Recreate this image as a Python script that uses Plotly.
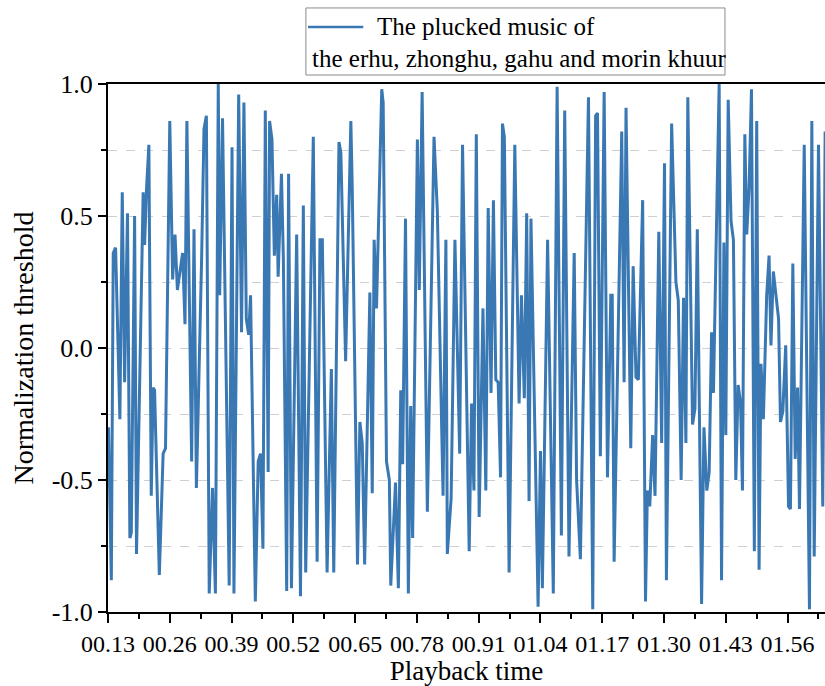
import plotly.graph_objects as go

# Playback time (x) and normalized amplitude (y)
time = [
    0.131, 0.137, 0.141, 0.146, 0.155, 0.160, 0.165, 0.171, 0.176, 0.179,
    0.186, 0.190, 0.204, 0.207, 0.211, 0.216, 0.221, 0.225, 0.228, 0.238,
    0.246, 0.251, 0.260, 0.266, 0.271, 0.276, 0.287, 0.292, 0.296, 0.306,
    0.311, 0.316, 0.327, 0.332, 0.337, 0.343, 0.350, 0.356, 0.362, 0.365,
    0.371, 0.385, 0.391, 0.395, 0.405, 0.411, 0.416, 0.421, 0.426, 0.430,
    0.440, 0.446, 0.451, 0.456, 0.461, 0.467, 0.470, 0.475, 0.480, 0.485,
    0.488, 0.495, 0.499, 0.506, 0.510, 0.516, 0.527, 0.535, 0.541, 0.546,
    0.562, 0.570, 0.576, 0.581, 0.591, 0.600, 0.605, 0.616, 0.620, 0.630,
    0.641, 0.644, 0.655, 0.660, 0.665, 0.670, 0.681, 0.686, 0.690, 0.695,
    0.706, 0.709, 0.716, 0.722, 0.725, 0.735, 0.741, 0.746, 0.750, 0.756,
    0.762, 0.767, 0.771, 0.781, 0.785, 0.791, 0.802, 0.816, 0.823, 0.835,
    0.841, 0.844, 0.852, 0.860, 0.870, 0.876, 0.890, 0.895, 0.900, 0.905,
    0.911, 0.919, 0.925, 0.930, 0.936, 0.941, 0.946, 0.951, 0.956, 0.960,
    0.964, 0.974, 0.986, 0.995, 1.000, 1.006, 1.011, 1.016, 1.020, 1.035,
    1.040, 1.044, 1.055, 1.067, 1.075, 1.084, 1.091, 1.100, 1.111, 1.116,
    1.124, 1.141, 1.150, 1.156, 1.160, 1.166, 1.174, 1.181, 1.188, 1.191,
    1.195, 1.211, 1.216, 1.220, 1.230, 1.235, 1.241, 1.246, 1.255, 1.261,
    1.265, 1.270, 1.276, 1.281, 1.289, 1.295, 1.301, 1.305, 1.316, 1.325,
    1.330, 1.336, 1.341, 1.346, 1.350, 1.360, 1.365, 1.370, 1.379, 1.384,
    1.390, 1.395, 1.400, 1.404, 1.409, 1.416, 1.421, 1.426, 1.430, 1.435,
    1.441, 1.446, 1.451, 1.456, 1.461, 1.465, 1.470, 1.474, 1.479, 1.484,
    1.490, 1.495, 1.500, 1.504, 1.509, 1.516, 1.521, 1.525, 1.530, 1.541,
    1.545, 1.550, 1.556, 1.562, 1.566, 1.571, 1.576, 1.581, 1.585, 1.595,
    1.606, 1.611, 1.616, 1.625, 1.634, 1.639,
]
amplitude = [
    -0.30, -0.88, 0.36, 0.38, -0.27, 0.59, -0.13, 0.51, -0.72, -0.70,
    0.50, -0.78, 0.59, 0.39, 0.60, 0.77, -0.56, -0.15, -0.16, -0.86,
    -0.40, -0.38, 0.86, 0.26, 0.43, 0.22, 0.36, 0.09, 0.86, -0.43,
    0.45, -0.53, 0.34, 0.83, 0.88, -0.93, -0.53, -0.93, 1.00, 0.20,
    0.87, -0.90, 0.76, -0.93, 0.96, 0.06, 0.93, 0.11, 0.05, 0.20,
    -0.96, -0.43, -0.40, -0.76, 0.90, -0.47, 0.86, 0.79, 0.35, 0.58,
    0.27, 0.66, 0.34, -0.92, 0.66, -0.91, 0.43, -0.94, 0.54, -0.85,
    0.80, -0.81, 0.41, 0.41, -0.85, -0.08, -0.85, 0.78, 0.74, -0.05,
    0.86, 0.60, -0.82, -0.28, -0.36, -0.82, 0.21, -0.55, 0.41, 0.15,
    0.98, 0.93, -0.43, -0.50, -0.90, -0.51, -0.91, -0.16, -0.44, 0.49,
    -0.93, -0.22, -0.72, 0.79, 0.22, 0.97, -0.62, 0.80, 0.52, -0.56,
    0.41, -0.78, -0.57, 0.41, -0.40, 0.77, -0.77, -0.21, -0.54, 0.81,
    -0.64, 0.15, -0.54, 0.53, -0.17, 0.56, -0.12, -0.13, -0.49, 0.85,
    0.80, -0.85, 0.77, -0.21, 0.20, -0.19, 0.51, -0.58, 0.49, -0.98,
    -0.39, -0.91, 0.41, -0.93, 0.99, -0.71, 0.90, -0.79, 0.36, -0.50,
    -0.80, 0.95, -0.99, 0.88, 0.89, -0.41, 0.97, -0.49, 0.20, 0.20,
    -0.81, 0.82, -0.13, 0.91, -0.38, 0.31, -0.11, -0.12, 0.56, -0.96,
    -0.54, -0.60, -0.33, -0.56, 0.44, -0.36, 0.70, -0.88, 0.85, 0.25,
    0.18, -0.50, 0.19, -0.36, 0.95, -0.29, -0.23, 0.45, -0.97, -0.30,
    -0.54, -0.47, 0.06, -0.17, 0.33, 1.00, -0.88, 0.40, -0.33, 0.94,
    0.48, 0.41, -0.50, -0.14, -0.21, -0.54, 0.81, 0.43, 0.61, 0.98,
    -0.77, 0.86, -0.84, -0.06, -0.27, 0.20, 0.35, 0.01, 0.29, 0.11,
    -0.28, -0.24, 0.01, -0.60, -0.61, 0.32, -0.42, -0.15, -0.61, 0.77,
    -0.99, 0.86, -0.79, 0.77, -0.60, 0.82,
]

tick_values = [0.13, 0.26, 0.39, 0.52, 0.65, 0.78, 0.91, 1.04, 1.17, 1.30, 1.43, 1.56]
tick_labels = ["00.13", "00.26", "00.39", "00.52", "00.65", "00.78",
               "00.91", "01.04", "01.17", "01.30", "01.43", "01.56"]
y_tick_values = [-1.0, -0.5, 0.0, 0.5, 1.0]
y_tick_labels = ["-1.0", "-0.5", "0.0", "0.5", "1.0"]

legend_line1 = "The plucked music of"
legend_line2 = "the erhu, zhonghu, gahu and morin khuur"

LINE_COLOR = "#3a78b3"
FONT = "Liberation Serif"

fig = go.Figure()
fig.add_trace(go.Scatter(
    x=time, y=amplitude, mode="lines",
    line=dict(color=LINE_COLOR, width=3),
    showlegend=False,
))

fig.update_layout(
    width=825, height=686,
    margin=dict(l=108, r=0, t=84, b=74),
    paper_bgcolor="white", plot_bgcolor="white",
    font=dict(family=FONT, color="black", size=22),
    xaxis=dict(
        range=[0.13, 1.6387],
        tickmode="array", tickvals=tick_values, ticktext=tick_labels,
        ticks="outside", ticklen=9, tickwidth=2, tickcolor="black",
        minor=dict(ticks="outside", ticklen=5, tickwidth=2, tickcolor="black",
                   dtick=0.13, tick0=0.065, showgrid=False),
        showline=True, linecolor="black", linewidth=2, mirror=True,
        showgrid=False, zeroline=False,
        tickfont=dict(family=FONT, size=24),
        ticklabelstandoff=0,
        title=dict(text="Playback time", font=dict(family=FONT, size=27), standoff=0),
    ),
    yaxis=dict(
        range=[-1.0, 1.0],
        tickmode="array", tickvals=y_tick_values, ticktext=y_tick_labels,
        ticks="outside", ticklen=8, tickwidth=2, tickcolor="black",
        minor=dict(ticks="outside", ticklen=5, tickwidth=2, tickcolor="black",
                   tickvals=[-0.75, -0.25, 0.25, 0.75],
                   showgrid=True, gridcolor="#d0d0d0", griddash="dash", gridwidth=1),
        showline=True, linecolor="black", linewidth=2, mirror=False,
        showgrid=True, gridcolor="#d0d0d0", griddash="dash", gridwidth=1,
        zeroline=False,
        tickfont=dict(family=FONT, size=26),
        title=dict(text="Normalization threshold", font=dict(family=FONT, size=28), standoff=10),
    ),
)

# manual legend box (line sample on the first line, second line unindented)
fig.add_shape(type="rect", xref="paper", yref="paper",
              x0=0.276, x1=0.8605, y0=1.017, y1=1.144,
              line=dict(color="#8a8a8a", width=1), fillcolor="white", layer="above")
fig.add_shape(type="line", xref="paper", yref="paper",
              x0=0.279, x1=0.356, y0=1.108, y1=1.108,
              line=dict(color=LINE_COLOR, width=2.6))
fig.add_annotation(xref="paper", yref="paper", x=0.3724, y=1.108,
                   xanchor="left", yanchor="middle", showarrow=False,
                   text=legend_line1, font=dict(family=FONT, size=25))
fig.add_annotation(xref="paper", yref="paper", x=0.2818, y=1.049,
                   xanchor="left", yanchor="middle", showarrow=False,
                   text=legend_line2, font=dict(family=FONT, size=25))

fig.write_html("out.html")
